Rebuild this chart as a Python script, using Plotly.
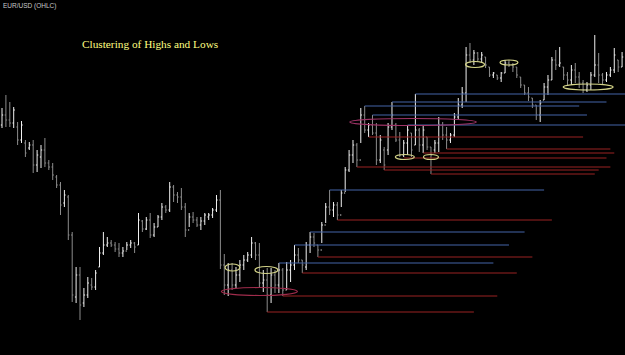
import plotly.graph_objects as go

# OHLC values (arbitrary price units, higher = higher price)
HIGH = [247,260,253,248,233,234,215,213,215,205,210,217,195,192,180,173,165,160,123,88,
        88,67,78,77,85,108,123,118,115,113,112,108,113,115,113,142,135,138,142,132,
        140,152,150,173,170,163,167,152,142,143,138,138,142,142,147,160,165,101,92,92,
        88,95,100,103,118,113,112,85,87,87,85,92,87,93,95,110,107,95,113,123,
        122,110,133,152,165,153,153,165,188,205,215,212,247,249,232,240,232,220,208,232,
        253,232,223,215,230,222,261,227,230,218,208,215,238,233,228,222,242,257,268,308,
        312,305,303,303,298,288,283,280,283,295,295,292,288,278,270,268,257,250,255,272,
        280,298,305,308,288,283,290,292,283,275,273,283,320,302,282,283,288,307,295,303]
LOW = [227,228,228,227,210,212,198,205,182,183,187,188,185,175,167,140,148,115,53,52,
       35,48,57,65,65,88,100,108,108,103,98,98,105,107,102,110,123,125,117,118,
       128,135,142,143,153,152,145,118,128,132,128,125,130,135,137,143,86,60,59,65,
       67,73,85,93,97,95,68,63,43,52,62,62,59,65,73,85,92,82,85,102,
       108,98,112,132,140,138,135,148,163,183,192,188,212,222,218,220,190,192,185,200,
       225,213,198,198,200,198,210,203,202,205,181,202,203,215,206,212,218,235,247,253,
       292,290,293,292,287,278,277,275,273,282,288,283,277,267,260,254,247,235,233,255,
       260,275,285,288,275,270,270,272,267,262,263,265,278,272,270,273,278,282,283,288]
OPEN = [230,240,235,232,228,215,212,207,210,190,198,205,192,188,178,170,152,158,120,58,
        80,52,60,70,68,88,102,110,112,110,106,102,104,110,112,110,134,126,135,120,
        128,138,148,145,168,160,158,148,125,138,135,130,134,138,140,145,155,90,70,85,
        70,80,90,95,100,112,100,72,75,60,80,70,85,65,85,90,100,95,88,110,
        118,110,105,130,148,145,150,140,162,185,200,210,195,240,225,230,222,195,205,205,
        228,230,215,200,212,222,210,225,210,218,208,205,212,230,220,215,220,238,250,262,
        300,295,302,296,298,288,280,280,277,282,292,290,288,278,270,262,257,250,240,255,
        268,275,295,290,288,280,275,285,278,272,265,270,280,290,280,275,280,285,295,288]
CLOSE = [240,235,232,245,215,230,202,210,190,200,205,192,188,180,170,150,160,120,60,80,
         50,60,72,68,82,102,110,112,110,106,102,104,110,112,108,135,126,135,120,128,
         138,148,145,168,160,158,148,125,138,135,130,134,140,140,145,155,90,70,85,70,
         80,90,95,100,112,100,72,75,60,80,70,85,65,85,90,100,95,90,110,118,
         112,105,130,148,145,150,140,162,185,200,210,195,240,225,230,222,195,215,190,228,
         240,215,200,212,225,205,225,210,225,208,200,212,230,220,215,220,238,250,262,300,
         295,302,296,300,290,280,282,277,282,292,290,288,280,270,262,258,250,240,252,268,
         275,295,290,292,280,275,285,278,272,265,270,280,290,280,275,280,285,300,288,298]

# Support / resistance lines: start bar, end bar, level
BLUE_START = [106, 100, 93, 95, 104, 84, 79, 75, 71]
BLUE_END   = [161, 155, 148, 150, 161, 139, 134, 130, 126]
BLUE_LEVEL = [261, 253, 249, 240, 230, 165, 123, 110, 92]

RED_START = [94, 114, 108, 103, 91, 98, 110, 86, 81, 77, 72, 68]
RED_END   = [149, 156, 157, 155, 156, 153, 152, 141, 136, 132, 127, 121]
RED_LEVEL = [218, 206, 202, 197, 188, 185, 181, 135, 98, 82, 59, 43]

# Cluster ellipses: centre bar, centre level, half width (bars), half height
YEL_CX = [59.1, 67.8, 103.3, 110.0, 121.3, 130.0, 150.3]
YEL_CY = [87.5, 85.0, 198.0, 198.0, 290.5, 292.5, 268.0]
YEL_RX = [1.9, 2.95, 2.44, 1.92, 2.44, 2.3, 6.4]
YEL_RY = [3.5, 3.5, 2.5, 2.5, 3.0, 2.5, 3.0]

RED_CX = [66.0]
RED_CY = [63.5]
RED_RX = [9.75]
RED_RY = [4.0]

MAG_CX = [105.4]
MAG_CY = [233.0]
MAG_RX = [16.2]
MAG_RY = [3.5]

idx = list(range(len(HIGH)))

fig = go.Figure()

def add_lines(starts, ends, levels, color):
    xs, ys = [], []
    for s, e, l in zip(starts, ends, levels):
        xs += [s, e, None]
        ys += [l, l, None]
    fig.add_trace(go.Scatter(x=xs, y=ys, mode="lines",
                             line=dict(color=color, width=1.2),
                             hoverinfo="skip", showlegend=False))

add_lines(RED_START, RED_END, RED_LEVEL, "#9a2222")
add_lines(BLUE_START, BLUE_END, BLUE_LEVEL, "#4465a8")

fig.add_trace(go.Ohlc(x=idx, open=OPEN, high=HIGH, low=LOW, close=CLOSE,
                      increasing=dict(line=dict(color="#f0f0f0", width=1)),
                      decreasing=dict(line=dict(color="#8c8c8c", width=1)),
                      tickwidth=0.3, showlegend=False))

def add_ellipses(cx, cy, rx, ry, color):
    for a, b, c, d in zip(cx, cy, rx, ry):
        fig.add_shape(type="circle", xref="x", yref="y",
                      x0=a - c, x1=a + c, y0=b - d, y1=b + d,
                      line=dict(color=color, width=1.2))

add_ellipses(RED_CX, RED_CY, RED_RX, RED_RY, "#a02c4c")
add_ellipses(MAG_CX, MAG_CY, MAG_RX, MAG_RY, "#a03468")
add_ellipses(YEL_CX, YEL_CY, YEL_RX, YEL_RY, "#d4d488")

fig.add_annotation(text="Clustering of Highs and Lows", xref="paper", yref="paper",
                   x=80/625, y=1 - 44/355, xanchor="left", yanchor="middle",
                   showarrow=False,
                   font=dict(family="Liberation Serif", size=11.3, color="#ffff80"))
fig.add_annotation(text="EUR/USD (OHLC)", xref="paper", yref="paper",
                   x=1/625, y=1 - 6/355, xanchor="left", yanchor="middle",
                   showarrow=False,
                   font=dict(family="Liberation Sans", size=6.5, color="#c8c8c8"))

fig.update_layout(width=625, height=355, margin=dict(l=0, r=0, t=0, b=0),
                  paper_bgcolor="#000000", plot_bgcolor="#000000",
                  xaxis=dict(range=[-0.513, 159.75], visible=False,
                             rangeslider=dict(visible=False), fixedrange=True),
                  yaxis=dict(range=[0, 355], visible=False, fixedrange=True),
                  showlegend=False)

fig.write_html("out.html")
